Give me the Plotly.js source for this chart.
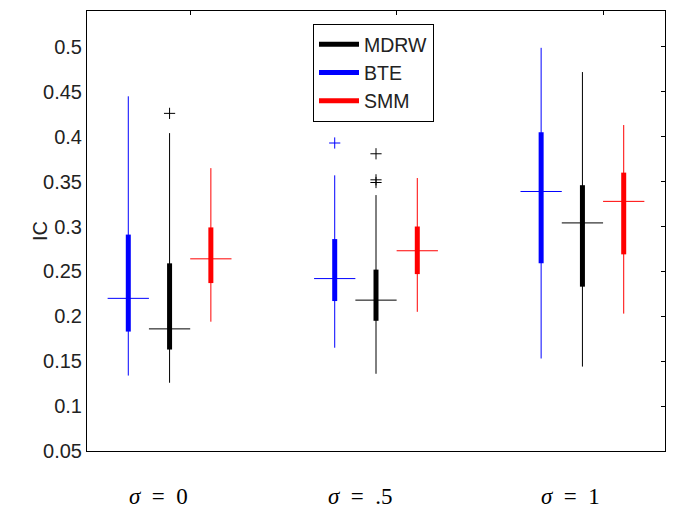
<!DOCTYPE html>
<html>
<head>
<meta charset="utf-8">
<script src="https://cdn.plot.ly/plotly-3.0.1.min.js"></script>
<style>html,body{margin:0;padding:0;background:#fff;}#chart{width:677px;height:509px;}</style>
</head>
<body>
<div id="chart"></div>
<script>
// ---- data ----
const categories = ['σ = 0', 'σ = .5', 'σ = 1'];
const seriesNames = ['MDRW', 'BTE', 'SMM'];
const seriesColors = ['#000000', '#0000ff', '#ff0000'];

// MDRW
const mdrwLowWhisker = [0.126, 0.136, 0.144];
const mdrwQ1 = [0.163, 0.195, 0.233];
const mdrwMedian = [0.186, 0.218, 0.304];
const mdrwQ3 = [0.259, 0.252, 0.346];
const mdrwHighWhisker = [0.404, 0.335, 0.472];
const mdrwOutliers = [[0.426], [0.381, 0.352, 0.349], []];

// BTE
const bteLowWhisker = [0.134, 0.165, 0.153];
const bteQ1 = [0.183, 0.217, 0.259];
const bteMedian = [0.220, 0.242, 0.339];
const bteQ3 = [0.291, 0.286, 0.405];
const bteHighWhisker = [0.445, 0.357, 0.499];
const bteOutliers = [[], [0.393], []];

// SMM
const smmLowWhisker = [0.194, 0.205, 0.203];
const smmQ1 = [0.237, 0.247, 0.269];
const smmMedian = [0.264, 0.273, 0.328];
const smmQ3 = [0.299, 0.300, 0.360];
const smmHighWhisker = [0.365, 0.354, 0.413];
const smmOutliers = [[], [], []];

const yTickVals = [0.05, 0.1, 0.15, 0.2, 0.25, 0.3, 0.35, 0.4, 0.45, 0.5];
const yTickText = ['0.05', '0.1', '0.15', '0.2', '0.25', '0.3', '0.35', '0.4', '0.45', '0.5'];

// ---- layout helpers (positions / styles) ----
const groupCenters = [2, 7, 12];
const seriesOffset = [0, -1, 1];      // MDRW centre, BTE left, SMM right
const labelPos = [1.72, 6.62, 11.7];
const topTickPos = [2.5, 7.5, 12.5];
const medianHalf = 0.5;

const stats = [
  {lw: mdrwLowWhisker, q1: mdrwQ1, med: mdrwMedian, q3: mdrwQ3, hw: mdrwHighWhisker, out: mdrwOutliers},
  {lw: bteLowWhisker, q1: bteQ1, med: bteMedian, q3: bteQ3, hw: bteHighWhisker, out: bteOutliers},
  {lw: smmLowWhisker, q1: smmQ1, med: smmMedian, q3: smmQ3, hw: smmHighWhisker, out: smmOutliers}
];

const traces = [];
const boxTraces = [];
stats.forEach((st, s) => {
  const col = seriesColors[s];
  const wx = [], wy = [], bx = [], by = [], mx = [], my = [], ox = [], oy = [];
  categories.forEach((c, i) => {
    const x = groupCenters[i] + seriesOffset[s];
    wx.push(x, x, null); wy.push(st.lw[i], st.hw[i], null);
    bx.push(x, x, null); by.push(st.q1[i], st.q3[i], null);
    mx.push(x - medianHalf, x + medianHalf, null); my.push(st.med[i], st.med[i], null);
    st.out[i].forEach(v => { ox.push(x); oy.push(v); });
  });
  traces.push({type: 'scatter', mode: 'lines', x: wx, y: wy, line: {color: col, width: 1}, showlegend: false, hoverinfo: 'skip', connectgaps: false});
  boxTraces.push({type: 'scatter', mode: 'lines', x: bx, y: by, name: seriesNames[s], line: {color: col, width: 5}, showlegend: true, connectgaps: false, legendrank: s + 1});
  traces.push({type: 'scatter', mode: 'lines', x: mx, y: my, line: {color: col, width: 1}, showlegend: false, hoverinfo: 'skip', connectgaps: false});
  traces.push({type: 'scatter', mode: 'markers', x: ox, y: oy, marker: {symbol: 'cross-thin', size: 8, line: {color: col, width: 1}}, showlegend: false});
});
// invisible trace to register the tick-only mirror axes
traces.push({type: 'scatter', mode: 'none', x: [0], y: [0.05], xaxis: 'x2', yaxis: 'y2', showlegend: false, hoverinfo: 'skip'});
const data = boxTraces.concat(traces);

const annotations = categories.map((c, i) => ({
  text: '<i>σ</i>\u2002=\u2002' + c.split('= ')[1],
  x: labelPos[i], xref: 'x', y: 0, yref: 'paper', yanchor: 'bottom', yshift: -59, borderpad: 0,
  showarrow: false, font: {family: 'Liberation Serif, serif', size: 23, color: '#000'}
}));
annotations.push({
  text: 'IC', textangle: -90, x: 0, xref: 'paper', xshift: -60, y: 0.5, yref: 'paper',
  showarrow: false, font: {family: 'Liberation Sans, Arial, sans-serif', size: 20, color: '#222'}
});

const layout = {
  width: 677, height: 509,
  margin: {l: 87, r: 12, t: 11, b: 58, pad: 0},
  paper_bgcolor: '#fff', plot_bgcolor: '#fff',
  font: {family: 'Liberation Sans, Arial, sans-serif', size: 20, color: '#000'},
  showlegend: true,
  legend: {x: 0.391, xanchor: 'left', y: 0.9705, yanchor: 'top', bgcolor: '#fff', bordercolor: '#000', borderwidth: 1,
           font: {size: 19.5, color: '#222'}, traceorder: 'normal', tracegroupgap: 0, itemwidth: 40},
  xaxis: {range: [0, 14], showgrid: false, zeroline: false, showline: true, mirror: true, linecolor: '#000', linewidth: 1,
          ticks: '', showticklabels: false, fixedrange: true},
  xaxis2: {range: [0, 14], overlaying: 'x', side: 'top', showgrid: false, zeroline: false, showline: false,
           tickvals: topTickPos, ticks: 'inside', ticklen: 4, tickcolor: '#000', showticklabels: false},
  yaxis: {range: [0.05, 0.54], showgrid: false, zeroline: false, showline: true, mirror: true, linecolor: '#000', linewidth: 1,
          ticks: '', tickvals: yTickVals, ticktext: yTickText, tickfont: {size: 20, color: '#222'}},
  yaxis2: {range: [0.05, 0.54], overlaying: 'y', side: 'right', showgrid: false, zeroline: false, showline: false,
           tickvals: yTickVals, ticks: 'inside', ticklen: 4, tickcolor: '#000', showticklabels: false},
  annotations: annotations
};

Plotly.newPlot('chart', data, layout, {staticPlot: true, displayModeBar: false});
</script>
</body>
</html>
